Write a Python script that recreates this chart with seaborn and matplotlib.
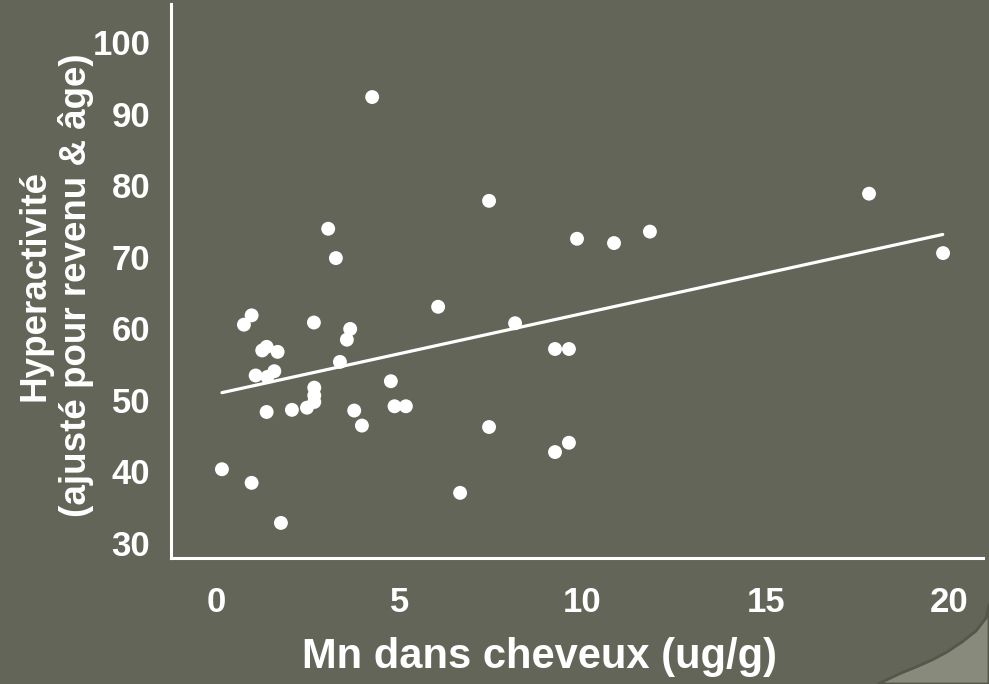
import matplotlib
matplotlib.use("Agg")
import matplotlib.pyplot as plt
import seaborn as sns
import pandas as pd
from matplotlib.patches import Polygon

# ---- data ----
mn_hair = [0.16, 0.76, 0.97, 0.97, 1.08, 1.26, 1.38, 1.40, 1.59, 1.38,
           1.68, 1.77, 2.07, 2.48, 2.67, 2.68, 2.68, 2.68, 3.06, 3.27,
           3.38, 3.57, 3.66, 3.77, 3.98, 4.26, 4.77, 4.87, 5.18, 6.06,
           6.66, 7.45, 7.45, 8.16, 9.25, 9.25, 9.63, 9.63, 9.85, 10.86,
           11.84, 17.82, 19.84]
hyperactivity = [40.3, 60.5, 61.8, 38.4, 53.4, 56.9, 57.4, 53.2, 54.0, 48.3,
                 56.7, 32.8, 48.6, 48.9, 60.8, 51.7, 50.6, 49.7, 73.9, 69.8,
                 55.3, 58.4, 59.9, 48.5, 46.4, 92.3, 52.6, 49.1, 49.1, 63.0,
                 37.0, 77.8, 46.2, 60.7, 57.1, 42.7, 57.1, 44.0, 72.5, 71.9,
                 73.5, 78.8, 70.5]
fit_x = [0.16, 19.83]
fit_y = [51.0, 73.1]
x_ticks = [0, 5, 10, 15, 20]
y_ticks = [30, 40, 50, 60, 70, 80, 90, 100]
x_label = "Mn dans cheveux (ug/g)"
y_label = "Hyperactivité\n(ajusté pour revenu & âge)"

BG = "#636558"
FG = "white"

sns.set_theme(style="white")
plt.rcParams["font.family"] = ["Liberation Sans", "DejaVu Sans"]
plt.rcParams["font.weight"] = "bold"

W, H = 989, 684
fig = plt.figure(figsize=(W / 100, H / 100), dpi=100, facecolor=BG)

# decorative page-curl corner (bottom right)
curl = [(989, 604), (986, 618), (976, 631), (962, 642), (947, 652), (932, 660),
        (916, 667), (899, 674), (878, 684), (989, 684)]
fig.patches.append(Polygon([(x / W, 1 - y / H) for x, y in curl], closed=True,
                           transform=fig.transFigure, facecolor="#888a7b",
                           edgecolor="#55574b", linewidth=2.0, zorder=0))

ax = fig.add_axes([171 / W, 1 - 558 / H, (983 - 171) / W, (558 - 4) / H])
ax.set_facecolor("none")

df = pd.DataFrame({"mn": mn_hair, "hyp": hyperactivity})
sns.scatterplot(data=df, x="mn", y="hyp", ax=ax, color=FG, s=100,
                edgecolor="none", linewidth=0, zorder=3)
sns.lineplot(x=fit_x, y=fit_y, ax=ax, color=FG, linewidth=2.3, zorder=2)

ax.set_xlim(-1.23, 20.93)
ax.set_ylim(27.9, 105.3)
ax.set_xticks(x_ticks)
ax.set_yticks(y_ticks)
ax.set_xticklabels([str(t) for t in x_ticks])
ax.set_yticklabels([str(t) for t in y_ticks])
ax.tick_params(axis="both", length=0, colors=FG, labelsize=25)
ax.tick_params(axis="x", pad=20)
ax.tick_params(axis="y", pad=15)
for lab in ax.get_xticklabels() + ax.get_yticklabels():
    lab.set_fontweight("bold")

for side in ["top", "right"]:
    ax.spines[side].set_visible(False)
for side in ["left", "bottom"]:
    ax.spines[side].set_color(FG)
    ax.spines[side].set_linewidth(2.2)

ax.set_xlabel("")
ax.set_ylabel("")
fig.text(539 / W, 1 - 657 / H, x_label, color=FG, fontsize=30,
         fontweight="bold", ha="center", va="center")
fig.text(56 / W, 1 - 285 / H, y_label, color=FG, fontsize=26.5,
         fontweight="bold", ha="center", va="center", rotation=90,
         multialignment="center", linespacing=1.2)

fig.savefig("out.png", dpi=100, facecolor=BG)
